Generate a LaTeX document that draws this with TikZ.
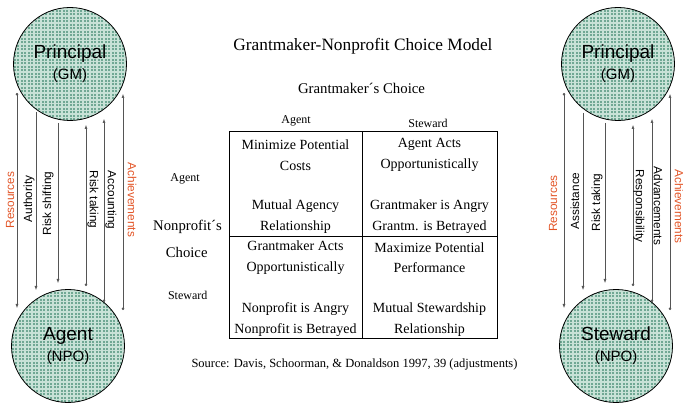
\documentclass[tikz,border=0pt]{standalone}
\usepackage{fontspec}
\setmainfont{Liberation Serif}
\setsansfont{Liberation Sans}
\usetikzlibrary{arrows.meta}

\definecolor{hatchbase}{RGB}{112,168,148}
\definecolor{hatchline}{RGB}{200,226,215}
\definecolor{accent}{RGB}{226,84,38}
\definecolor{wire}{RGB}{85,85,85}

\tikzset{
  actor/.style={circle,draw,line width=0.8pt,minimum size=113pt,inner sep=0pt,
    fill=hatchbase,align=center,font=\sffamily\fontsize{19}{19}\selectfont,
    path picture={
      \foreach \k in {-57,-53.5,...,57} {
        \draw[hatchline,line width=1.2pt]
          ([xshift=\k pt]path picture bounding box.north) --
          ([xshift=\k pt]path picture bounding box.south);
        \draw[hatchline,line width=1.2pt]
          ([yshift=\k pt]path picture bounding box.west) --
          ([yshift=\k pt]path picture bounding box.east);
      }}},
  flowdown/.style={draw=wire,line width=0.5pt,{Circle[length=2.6pt]}-{Latex[length=4pt,width=3pt]}},
  flowplain/.style={draw=wire,line width=0.5pt,-{Latex[length=4pt,width=3pt]}},
  flowlabel/.style={font=\sffamily\fontsize{11.8}{12}\selectfont,inner sep=0pt},
  cell/.style={align=center,font=\fontsize{14}{20.5}\selectfont,inner sep=0pt},
  header/.style={font=\fontsize{12}{14}\selectfont,inner sep=0pt},
  side/.style={font=\fontsize{14.7}{16}\selectfont,inner sep=0pt}
}
\newcommand{\subline}[1]{{\fontsize{15}{15}\selectfont #1}}

\begin{document}
\begin{tikzpicture}[x=1pt,y=-1pt]
  \useasboundingbox (0,0) rectangle (683,403);

  % the four parties
  \node[actor] (pgl) at (70,64) {Principal\\[2pt]\subline{(GM)}};
  \node[actor] (agl) at (68,346) {Agent\\[2pt]\subline{(NPO)}};
  \node[actor] (pgr) at (618,64) {Principal\\[2pt]\subline{(GM)}};
  \node[actor] (str) at (616,346) {Steward\\[2pt]\subline{(NPO)}};

  % exchange lines, left pair
  \foreach \i/\x/\ya/\yb/\kind in {1/17/93/308/flowdown, 2/36/112/290/flowplain,
      3/58/123/283/flowplain, 4/86/286/125/flowdown, 5/104/302/119/flowdown,
      6/123/310/94/flowdown} {
    \coordinate (l\i s) at (\x,\ya);
    \coordinate (l\i e) at (\x,\yb);
    \draw[\kind] (l\i s) -- (l\i e);
  }
  % exchange lines, right pair
  \foreach \i/\x/\ya/\yb/\kind in {1/564/93/308/flowdown, 2/583/113/290/flowplain,
      3/605/123/283/flowplain, 4/633/286/125/flowdown, 5/652/302/119/flowdown,
      6/670/310/94/flowdown} {
    \coordinate (r\i s) at (\x,\ya);
    \coordinate (r\i e) at (\x,\yb);
    \draw[\kind] (r\i s) -- (r\i e);
  }

  \node[flowlabel,rotate=90,text=accent] (lres) at (10,200) {Resources};
  \node[flowlabel,rotate=90] (laut) at (29,199) {Authority};
  \node[flowlabel,rotate=90] (lrsh) at (48,203.5) {Risk shifting};
  \node[flowlabel,rotate=-90] (lrtk) at (93,199.5) {Risk taking};
  \node[flowlabel,rotate=-90] (lacc) at (111,200) {Accounting};
  \node[flowlabel,rotate=-90,text=accent] (lach) at (132,200) {Achievements};

  \node[flowlabel,rotate=90,text=accent] (rres) at (553,203.5) {Resources};
  \node[flowlabel,rotate=90] (rass) at (575,201) {Assistance};
  \node[flowlabel,rotate=90] (rrtk) at (597,202.5) {Risk taking};
  \node[flowlabel,rotate=-90] (rrsp) at (639,206) {Responsibility};
  \node[flowlabel,rotate=-90] (radv) at (658,206) {Advancements};
  \node[flowlabel,rotate=-90,text=accent] (rach) at (679,206.5) {Achievements};

  % choice model
  \node[font=\fontsize{17.3}{20}\selectfont] (title) at (363,46) {Grantmaker-Nonprofit Choice Model};
  \node[font=\fontsize{14.8}{18}\selectfont] (gmc) at (361.5,88) {Grantmaker´s Choice};
  \node[header] (hag) at (296,121) {Agent};
  \node[header] (hst) at (428,123) {Steward};

  \coordinate (tnw) at (229,132);
  \coordinate (tse) at (497,339);
  \draw[line width=1pt] (tnw) rectangle (tse);
  \draw[line width=1pt] (362,132) -- (362,339);
  \draw[line width=1pt] (229,237) -- (497,237);

  \node[cell] (c11a) at (295.5,155) {Minimize Potential\\Costs};
  \node[cell] (c11b) at (295.5,216.5) {Mutual Agency\\Relationship};
  \node[cell] (c12a) at (429.5,155) {Agent Acts\\Opportunistically};
  \node[cell] (c12b) at (429.5,216.5) {Grantmaker is Angry\\Grantm. is Betrayed};
  \node[cell] (c21a) at (295.5,257.5) {Grantmaker Acts\\Opportunistically};
  \node[cell] (c21b) at (295.5,319.5) {Nonprofit is Angry\\Nonprofit is Betrayed};
  \node[cell] (c22a) at (429.5,257.5) {Maximize Potential\\Performance};
  \node[cell] (c22b) at (429.5,319.5) {Mutual Stewardship\\Relationship};

  \node[header] (vag) at (185,179) {Agent};
  \node[side] (npc) at (187.5,227) {Nonprofit´s};
  \node[side] (cho) at (186.7,252) {Choice};
  \node[header] (vst) at (187.7,295) {Steward};

  \node[font=\fontsize{12.5}{14}\selectfont] (src) at (354.5,364)
    {Source: Davis, Schoorman, \& Donaldson 1997, 39 (adjustments)};
\end{tikzpicture}
\end{document}
